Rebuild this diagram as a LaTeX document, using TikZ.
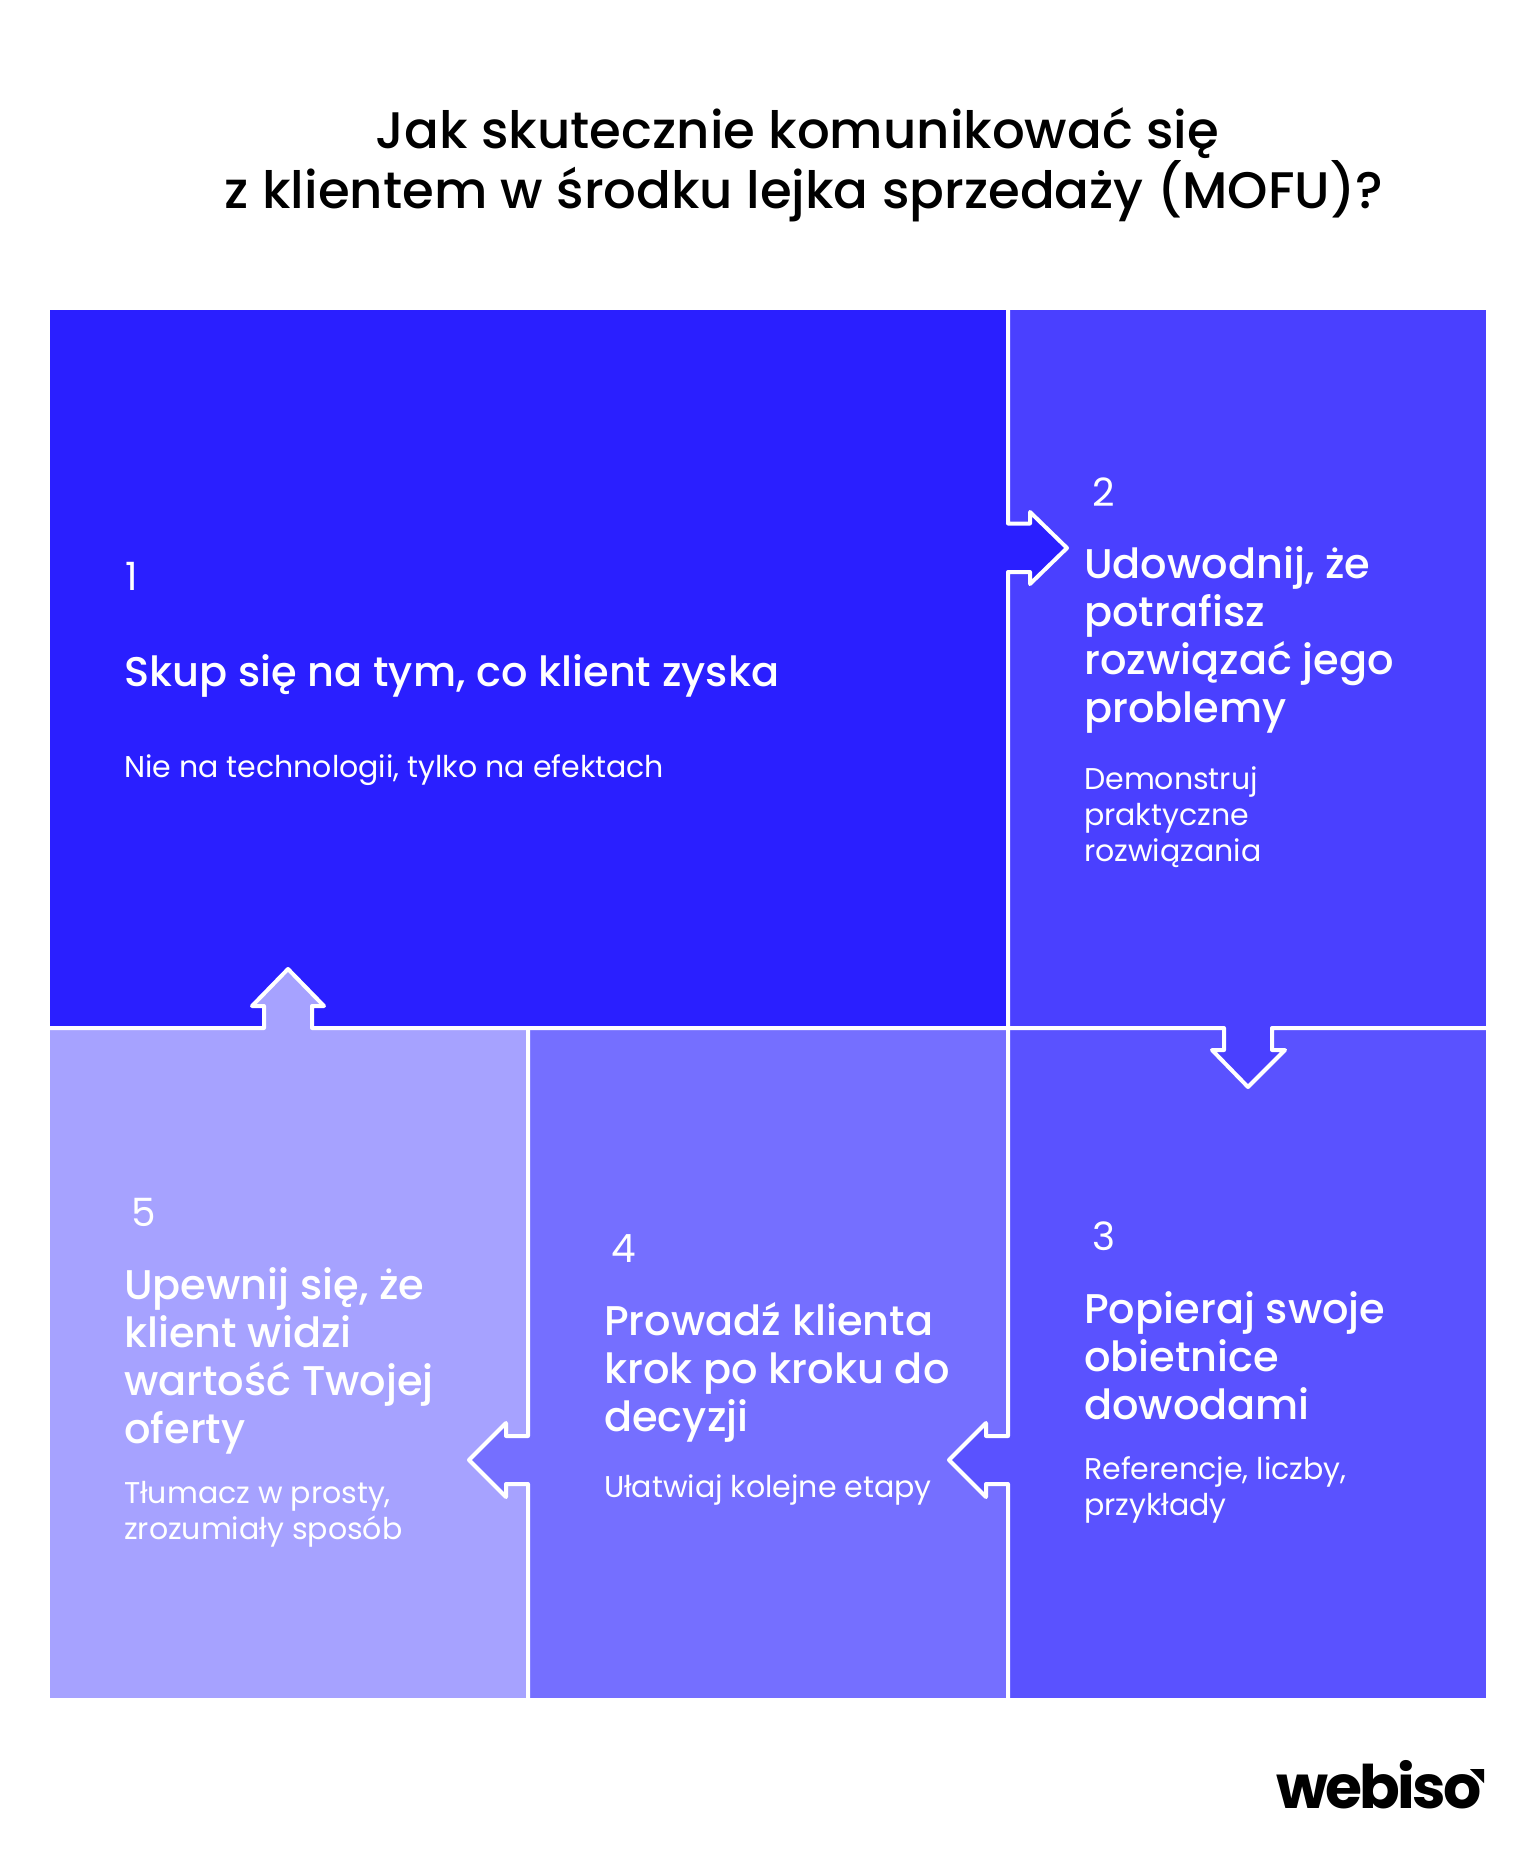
\documentclass[tikz,border=0pt]{standalone}
\usepackage{fontspec}
\setmainfont{Poppins}
\newfontfamily\popmed{Poppins Medium}
\newfontfamily\poplogo[LetterSpace=-4.7]{Poppins Bold}
\definecolor{panelA}{HTML}{2A1FFF}
\definecolor{panelB}{HTML}{4A40FF}
\definecolor{panelC}{HTML}{5A52FF}
\definecolor{panelD}{HTML}{756FFF}
\definecolor{panelE}{HTML}{A6A2FF}
\tikzset{
  wline/.style={draw=white,line width=4pt,line join=round,line cap=butt},
  numtxt/.style={text=white,inner sep=0pt,anchor=base west,font=\fontsize{39}{48}\selectfont},
  headtxt/.style={text=white,inner sep=0pt,anchor=base west,align=left,font=\popmed\fontsize{41.5}{48}\selectfont},
  subtxt/.style={text=white,inner sep=0pt,anchor=base west,align=left,font=\fontsize{30}{36}\selectfont},
}
\begin{document}
\begin{tikzpicture}[x=1pt,y=-1pt]
\useasboundingbox (0,0) rectangle (1536,1872);
% panels
\fill[panelA] (50,310) rectangle (1008,1028);
\fill[panelB] (1008,310) rectangle (1486,1028);
\fill[panelC] (1008,1028) rectangle (1486,1698);
\fill[panelD] (528,1028) rectangle (1008,1698);
\fill[panelE] (50,1028) rectangle (528,1698);
% arrows
\fill[panelA] (1000,523.5) -- (1030,523.5) -- (1030,512) -- (1067,548) -- (1030,584) -- (1030,572) -- (1000,572) -- cycle;
\fill[panelB] (1224,1020) -- (1224,1050) -- (1212,1050) -- (1248,1087) -- (1285,1050) -- (1272,1050) -- (1272,1020) -- cycle;
\fill[panelC] (1016,1436) -- (986,1436) -- (986,1423) -- (949,1460) -- (986,1497) -- (986,1484) -- (1016,1484) -- cycle;
\fill[panelD] (536,1436) -- (506,1436) -- (506,1423) -- (469,1460) -- (506,1497) -- (506,1484) -- (536,1484) -- cycle;
\fill[panelE] (264,1036) -- (264,1006) -- (252,1006) -- (288,969) -- (324,1006) -- (312,1006) -- (312,1036) -- cycle;
% white lines
\draw[wline] (1008,310) -- (1008,523.5) -- (1030,523.5) -- (1030,512) -- (1067,548) -- (1030,584) -- (1030,572) -- (1008,572) -- (1008,1028);
\draw[wline] (50,1028) -- (264,1028) -- (264,1006) -- (252,1006) -- (288,969) -- (324,1006) -- (312,1006) -- (312,1028) -- (1224,1028) -- (1224,1050) -- (1212,1050) -- (1248,1087) -- (1285,1050) -- (1272,1050) -- (1272,1028) -- (1486,1028);
\draw[wline] (1008,1028) -- (1008,1436) -- (986,1436) -- (986,1423) -- (949,1460) -- (986,1497) -- (986,1484) -- (1008,1484) -- (1008,1698);
\draw[wline] (528,1028) -- (528,1436) -- (506,1436) -- (506,1423) -- (469,1460) -- (506,1497) -- (506,1484) -- (528,1484) -- (528,1698);
% title
\node (title) [text=black,inner sep=0pt,anchor=center,align=center,font=\popmed\fontsize{51.4}{60}\selectfont] at (804,165)
  {Jak skutecznie komunikować się\hspace*{13pt}\\z klientem w środku lejka sprzedaży (MOFU)?};
% panel 1
\node (n1) [numtxt] at (125,590) {1};
\node (h1) [headtxt] at (124,686) {Skup się na tym, co klient zyska};
\node (s1) [subtxt] at (124,777) {Nie na technologii, tylko na efektach};
% panel 2
\node (n2) [numtxt] at (1092,506) {2};
\node (h2) [headtxt,anchor=north west] at (1084,546.5) {Udowodnij, że\\potrafisz\\rozwiązać jego\\problemy};
\node (s2) [subtxt,anchor=north west] at (1084,766) {Demonstruj\\praktyczne\\rozwiązania};
% panel 3
\node (n3) [numtxt] at (1092,1250) {3};
\node (h3) [headtxt,anchor=north west] at (1084,1291) {Popieraj swoje\\obietnice\\dowodami};
\node (s3) [subtxt,anchor=north west] at (1084,1456) {Referencje, liczby,\\przykłady};
% panel 4
\node (n4) [numtxt] at (611,1262) {4};
\node (h4) [headtxt,anchor=north west] at (604,1302) {Prowadź klienta\\krok po kroku do\\decyzji};
\node (s4) [subtxt,anchor=north west] at (604,1474) {Ułatwiaj kolejne etapy};
% panel 5
\node (n5) [numtxt] at (131,1226) {5};
\node (h5) [headtxt,anchor=north west] at (124,1267) {Upewnij się, że\\klient widzi\\wartość Twojej\\oferty};
\node (s5) [subtxt,anchor=north west] at (124,1481) {Tłumacz w prosty,\\zrozumiały sposób};
% logo
\node (logo) [text=black,inner sep=0pt,anchor=base west,font=\poplogo\fontsize{60}{60}\selectfont] at (1276,1808) {webiso};
\fill[white] (1460,1764) -- (1490,1764) -- (1490,1792) -- cycle;
\fill[black] (1470,1769) -- (1484,1769) -- (1484,1783) -- cycle;
\end{tikzpicture}
\end{document}
